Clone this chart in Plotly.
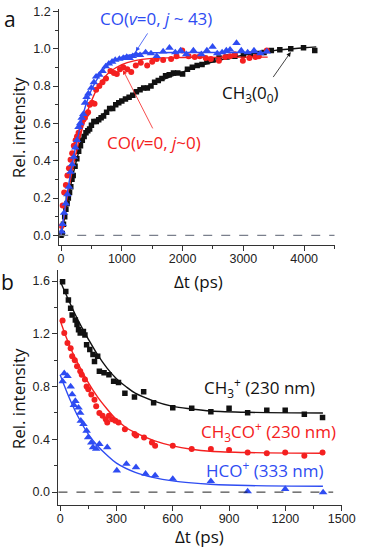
import plotly.graph_objects as go

# ---------------- Panel a data ----------------
a_ch3_t = [0, 20, 40, 60, 80, 100, 120, 140, 160, 180, 200, 230, 260, 290, 320, 350, 380, 410, 440, 470,
           500, 540, 580, 620, 660, 700, 750, 800, 850, 900, 950, 1000, 1060, 1120, 1180, 1240, 1300, 1360,
           1420, 1480, 1540, 1600, 1660, 1720, 1780, 1850, 1920, 2000, 2080, 2160, 2240, 2320, 2400, 2500,
           2600, 2730, 2860, 3000, 3120, 3230, 3340, 3460, 3600, 3780, 3990, 4175]
a_ch3_v = [0.00, 0.01, 0.06, 0.10, 0.14, 0.17, 0.20, 0.23, 0.26, 0.30, 0.32, 0.37, 0.41, 0.45, 0.48, 0.51,
           0.53, 0.55, 0.56, 0.57, 0.59, 0.61, 0.61, 0.62, 0.63, 0.64, 0.66, 0.68, 0.68, 0.70, 0.71, 0.72,
           0.73, 0.74, 0.75, 0.77, 0.78, 0.79, 0.79, 0.80, 0.82, 0.83, 0.84, 0.855, 0.86, 0.87, 0.87, 0.865,
           0.89, 0.90, 0.91, 0.915, 0.93, 0.94, 0.95, 0.955, 0.96, 0.965, 0.97, 0.975, 0.98, 0.99, 0.995,
           1.00, 1.005, 0.99]
a_ch3_fit_t = [0, 50, 100, 200, 300, 400, 500, 600, 800, 1000, 1200, 1500, 2000, 2500, 3000, 3500, 4000, 4200]
a_ch3_fit_v = [0, 0.08, 0.17, 0.33, 0.455, 0.54, 0.59, 0.625, 0.675, 0.72, 0.76, 0.81, 0.875, 0.93, 0.965,
               0.99, 1.005, 1.01]

a_hi_t = [10, 26, 50, 79, 105, 131, 157, 183, 210, 236, 262, 288, 315, 340, 367, 394, 420, 450, 498, 540,
          577, 630, 682, 735, 787, 840, 892, 960, 1024, 1080, 1128, 1180, 1233, 1300, 1391, 1480, 1575, 1680,
          1784, 1880, 1968, 2060, 2178, 2309, 2400, 2493, 2570, 2650, 2720, 2781, 2887, 2965, 3071, 3175,
          3280, 3386]
a_hi_v = [0.02, 0.06, 0.12, 0.17, 0.22, 0.26, 0.34, 0.38, 0.42, 0.47, 0.51, 0.58, 0.60, 0.63, 0.65, 0.71,
          0.74, 0.76, 0.79, 0.82, 0.85, 0.86, 0.88, 0.905, 0.92, 0.93, 0.94, 0.945, 0.95, 0.955, 0.95, 0.96,
          0.97, 0.965, 0.98, 0.975, 0.96, 0.985, 1.005, 0.98, 0.99, 0.97, 0.99, 0.97, 0.99, 1.01, 0.975,
          0.98, 0.99, 0.995, 1.03, 0.99, 0.98, 0.99, 0.975, 0.985]
a_hi_fit_t = [0, 100, 200, 300, 400, 500, 600, 700, 800, 1000, 1200, 1500, 2000, 3400]
a_hi_fit_v = [0, 0.22, 0.41, 0.56, 0.69, 0.78, 0.84, 0.89, 0.92, 0.955, 0.97, 0.978, 0.98, 0.98]

a_lo_t = [10, 26, 52, 80, 105, 130, 157, 183, 210, 240, 262, 288, 315, 340, 367, 394, 420, 445, 472, 510,
          551, 577, 630, 682, 740, 813, 870, 918, 970, 1024, 1090, 1155, 1230, 1312, 1417, 1500, 1575, 1680,
          1811, 1900, 1994, 2100, 2200, 2283, 2380, 2466, 2598, 2700, 2781, 2860, 2992, 3100, 3200, 3254, 3386]
a_lo_v = [0.05, 0.16, 0.23, 0.27, 0.32, 0.36, 0.405, 0.44, 0.48, 0.51, 0.53, 0.55, 0.58, 0.60, 0.62, 0.63,
          0.65, 0.66, 0.70, 0.71, 0.705, 0.78, 0.80, 0.82, 0.84, 0.88, 0.87, 0.865, 0.89, 0.90, 0.89, 0.875,
          0.91, 0.925, 0.91, 0.93, 0.945, 0.94, 0.945, 0.96, 0.99, 0.96, 0.955, 0.96, 0.95, 0.945, 0.935,
          0.955, 0.96, 0.97, 0.935, 0.95, 0.955, 0.96, 0.99]
a_lo_fit_t = [0, 100, 200, 300, 400, 500, 600, 700, 800, 1000, 1200, 1500, 2000, 3400]
a_lo_fit_v = [0, 0.20, 0.37, 0.51, 0.63, 0.72, 0.79, 0.84, 0.875, 0.915, 0.935, 0.948, 0.953, 0.955]

# ---------------- Panel b data ----------------
b_ch3_t = [13, 30, 44, 56, 64, 81, 90, 98, 107, 124, 132, 141, 158, 175, 183, 200, 209, 234, 260, 285,
           311, 345, 396, 445, 498, 600, 701, 803, 900, 999, 1101, 1199, 1301, 1398]
b_ch3_v = [1.594, 1.52, 1.456, 1.393, 1.343, 1.305, 1.27, 1.23, 1.205, 1.218, 1.19, 1.117, 1.08, 1.042,
           0.99, 1.03, 0.916, 0.904, 0.89, 0.84, 0.83, 0.75, 0.72, 0.76, 0.678, 0.64, 0.635, 0.61, 0.635,
           0.602, 0.62, 0.62, 0.59, 0.565]
b_ch3_fit_t = [0, 50, 100, 150, 200, 250, 300, 350, 400, 500, 600, 700, 800, 1000, 1400]
b_ch3_fit_v = [1.6, 1.44, 1.29, 1.16, 1.04, 0.94, 0.86, 0.80, 0.75, 0.69, 0.65, 0.63, 0.615, 0.605, 0.60]

b_ac_t = [13, 22, 39, 56, 64, 78, 90, 107, 115, 132, 141, 150, 166, 183, 192, 209, 226, 243, 251, 260,
          277, 294, 311, 345, 396, 405, 447, 489, 506, 600, 701, 803, 900, 999, 1101, 1199, 1301, 1398]
b_ac_v = [1.30, 1.205, 1.13, 1.09, 1.03, 1.0, 0.954, 0.916, 0.89, 0.854, 0.80, 0.78, 0.74, 0.70, 0.65,
          0.60, 0.578, 0.553, 0.527, 0.578, 0.553, 0.54, 0.527, 0.477, 0.44, 0.43, 0.414, 0.376, 0.352,
          0.352, 0.327, 0.327, 0.32, 0.30, 0.294, 0.30, 0.276, 0.30]
b_ac_fit_t = [0, 50, 100, 150, 200, 250, 300, 350, 400, 500, 600, 700, 800, 1000, 1400]
b_ac_fit_v = [1.30, 1.11, 0.96, 0.83, 0.72, 0.63, 0.55, 0.49, 0.45, 0.39, 0.35, 0.325, 0.31, 0.30, 0.295]

b_hco_t = [13, 22, 39, 56, 64, 73, 81, 98, 107, 110, 124, 141, 149, 166, 175, 192, 209, 251, 302, 353,
           404, 455, 506, 600, 803, 999, 1199, 1401]
b_hco_v = [0.84, 0.90, 0.88, 0.80, 0.74, 0.66, 0.69, 0.64, 0.60, 0.54, 0.515, 0.465, 0.414, 0.376, 0.34,
           0.327, 0.364, 0.34, 0.163, 0.214, 0.188, 0.139, 0.126, 0.10, 0.083, 0.005, 0.023, -0.002]
b_hco_fit_t = [0, 50, 100, 150, 200, 250, 300, 400, 500, 600, 700, 800, 1000, 1400]
b_hco_fit_v = [0.89, 0.71, 0.56, 0.44, 0.35, 0.28, 0.22, 0.15, 0.11, 0.085, 0.07, 0.06, 0.05, 0.044]

BLACK = "#111111"
RED = "#F42020"
BLUE = "#2E4CF2"
TEXTFONT = "Open Sans"
TICKFONT = "Liberation Sans"

fig = go.Figure()


def add_series(t, v, ft, fv, color, symbol, size, xa, ya):
    fig.add_trace(go.Scatter(x=ft, y=fv, mode="lines", line=dict(color=color, width=1.4, shape="spline"),
                             xaxis=xa, yaxis=ya, showlegend=False, hoverinfo="skip"))
    fig.add_trace(go.Scatter(x=t, y=v, mode="markers",
                             marker=dict(color=color, symbol=symbol, size=size, line=dict(width=0)),
                             xaxis=xa, yaxis=ya, showlegend=False))


add_series(a_ch3_t, a_ch3_v, a_ch3_fit_t, a_ch3_fit_v, BLACK, "square", 5.5, "x", "y")
add_series(a_lo_t, a_lo_v, a_lo_fit_t, a_lo_fit_v, RED, "circle", 6, "x", "y")
add_series(a_hi_t, a_hi_v, a_hi_fit_t, a_hi_fit_v, BLUE, "triangle-up", 7.5, "x", "y")

add_series(b_ch3_t, b_ch3_v, b_ch3_fit_t, b_ch3_fit_v, BLACK, "square", 5.5, "x2", "y2")
add_series(b_ac_t, b_ac_v, b_ac_fit_t, b_ac_fit_v, RED, "circle", 6, "x2", "y2")
add_series(b_hco_t, b_hco_v, b_hco_fit_t, b_hco_fit_v, BLUE, "triangle-up", 7.5, "x2", "y2")

H = 548.0


def py(pix):
    return 1 - pix / H


axcommon = dict(showline=True, linecolor="#333333", linewidth=1, ticks="outside", ticklen=5,
                tickcolor="#333333", showgrid=False, zeroline=False,
                tickfont=dict(family=TICKFONT, size=12.5, color="#222222"))

fig.update_layout(
    width=371, height=548, margin=dict(l=0, r=0, t=0, b=0),
    paper_bgcolor="white", plot_bgcolor="white",
    xaxis=dict(domain=[59.8 / 371, 347.5 / 371], range=[-30, 4500], anchor="y",
               tickvals=[0, 1000, 2000, 3000, 4000], ticklabelstandoff=-3,
               minor=dict(dtick=500, tick0=0, ticklen=3, ticks="outside", tickcolor="#333333"), **axcommon),
    yaxis=dict(domain=[py(243), py(5)], range=[-0.053, 1.213], anchor="x",
               tickvals=[0, 0.2, 0.4, 0.6, 0.8, 1.0, 1.2], tickformat=".1f",
               minor=dict(dtick=0.1, tick0=0, ticklen=3, ticks="outside", tickcolor="#333333"), **axcommon),
    xaxis2=dict(domain=[59.0 / 371, 355.0 / 371], range=[-9, 1500], anchor="y2",
                tickvals=[0, 300, 600, 900, 1200, 1500], ticklabelstandoff=-3,
                minor=dict(dtick=150, tick0=0, ticklen=3, ticks="outside", tickcolor="#333333"), **axcommon),
    yaxis2=dict(domain=[py(505), py(268.4)], range=[-0.1, 1.68], anchor="x2",
                tickvals=[0, 0.4, 0.8, 1.2, 1.6], tickformat=".1f",
                minor=dict(dtick=0.2, tick0=0, ticklen=3, ticks="outside", tickcolor="#333333"), **axcommon),
)

# zero reference lines
fig.add_shape(type="line", xref="x domain", yref="y", x0=0, x1=1, y0=0, y1=0,
              line=dict(color="#7A7F8C", width=1.2, dash="dash"))
fig.add_shape(type="line", xref="x2 domain", yref="y2", x0=0, x1=0.97, y0=0, y1=0,
              line=dict(color="#222222", width=1, dash="dash"))

ann = []


def text(x, y, s, color, size=17, xref="x", yref="y", angle=0, xanchor="center"):
    ann.append(dict(x=x, y=y, xref=xref, yref=yref, text=s, showarrow=False, textangle=angle,
                    xanchor=xanchor, yanchor="middle",
                    font=dict(family=TEXTFONT, size=size, color=color)))


def arrow(x, y, ax, ay, color, xref="x", yref="y"):
    ann.append(dict(x=x, y=y, ax=ax, ay=ay, xref=xref, yref=yref, axref=xref, ayref=yref, text="",
                    showarrow=True, arrowhead=2, arrowsize=1.1, arrowwidth=0.8, arrowcolor=color))


# panel a texts
text(1566, 1.16, "CO(<i>v</i>=0, <i>j</i> ~ 43)", BLUE)
arrow(1230, 0.985, 1440, 1.09, BLUE)
text(1534, 0.50, "CO(<i>v</i>=0, <i>j</i>~0)", RED)
arrow(1020, 0.885, 1521, 0.565, RED)
text(3110, 0.76, "CH<sub>3</sub>(0<sub>0</sub>)", BLACK)
arrow(3780, 0.982, 3474, 0.84, BLACK)

# panel b texts
text(1060, 0.79, "CH<sub>3</sub><sup>+</sup> (230 nm)", BLACK, xref="x2", yref="y2")
text(1110, 0.457, "CH<sub>3</sub>CO<sup>+</sup> (230 nm)", RED, xref="x2", yref="y2")
text(1090, 0.171, "HCO<sup>+</sup> (333 nm)", BLUE, xref="x2", yref="y2")

# axis titles and panel letters (paper coords)
text(17 / 371, py(125), "Rel. intensity", BLACK, size=17, xref="paper", yref="paper", angle=-90)
text(17 / 371, py(398), "Rel. intensity", BLACK, size=17, xref="paper", yref="paper", angle=-90)
text(205 / 371, py(280), "Δt (ps)", BLACK, size=17, xref="paper", yref="paper")
text(206 / 371, py(536), "Δt (ps)", BLACK, size=17, xref="paper", yref="paper")
text(8.5 / 371, py(15), "a", BLACK, size=21, xref="paper", yref="paper")
text(6 / 371, py(280), "b", BLACK, size=21, xref="paper", yref="paper")

fig.update_layout(annotations=ann)

fig.write_html("out.html", config={"displayModeBar": False},
               post_script="document.body.style.margin='0';")
